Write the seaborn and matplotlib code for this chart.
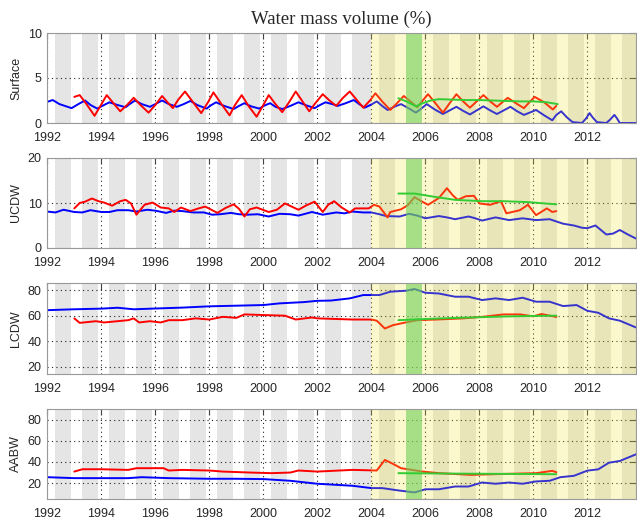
import numpy as np
import seaborn as sns
import matplotlib.pyplot as plt

sns.set_style('white')
plt.rcParams['font.family'] = ['Liberation Sans', 'DejaVu Sans']

# ---- data (year, percent) ----
surf_blue_t = [1992.0, 1992.2, 1992.45, 1992.9, 1993.15, 1993.4, 1993.6, 1993.85, 1994.1, 1994.3,
               1994.6, 1994.9, 1995.05, 1995.25, 1995.5, 1995.8, 1996.0, 1996.25, 1996.5, 1996.8,
               1997.05, 1997.3, 1997.55, 1997.9, 1998.05, 1998.25, 1998.55, 1998.9, 1999.1, 1999.3,
               1999.55, 1999.85, 2000.05, 2000.25, 2000.45, 2000.7, 2001.0, 2001.3, 2001.6, 2001.9,
               2002.1, 2002.3, 2002.55, 2002.75, 2003.05, 2003.35, 2003.55, 2003.75, 2004.0, 2004.2,
               2004.4, 2004.6, 2004.85, 2005.1, 2005.4, 2005.65, 2005.85, 2006.05, 2006.35, 2006.65,
               2006.9, 2007.15, 2007.4, 2007.65, 2007.9, 2008.15, 2008.4, 2008.65, 2008.9, 2009.15,
               2009.4, 2009.65, 2009.9, 2010.1, 2010.4, 2010.7, 2010.85, 2011.03, 2011.25, 2011.45,
               2011.8, 2011.95, 2012.08, 2012.2, 2012.35, 2012.7, 2012.85, 2013.0, 2013.1, 2013.2, 2013.8]
surf_blue_v = [2.35, 2.55, 2.1, 1.65, 2.1, 2.5, 2.0, 1.6, 2.0, 2.3,
               2.0, 1.75, 2.1, 2.5, 2.1, 1.8, 2.1, 2.5, 2.1, 1.8,
               2.1, 2.45, 2.0, 1.6, 1.95, 2.3, 1.9, 1.55, 1.9, 2.2,
               1.85, 1.6, 1.95, 2.2, 1.8, 1.55, 1.9, 2.3, 1.95, 1.65,
               2.0, 2.3, 2.1, 1.9, 2.2, 2.55, 2.1, 1.7, 2.05, 2.4,
               1.9, 1.45, 1.8, 2.1, 1.6, 1.15, 1.6, 2.1, 1.5, 1.0,
               1.4, 1.8, 1.35, 0.95, 1.4, 1.85, 1.4, 1.0, 1.4, 1.8,
               1.3, 0.9, 1.2, 1.45, 0.85, 0.3, 0.9, 1.3, 0.6, 0.1,
               0.0, 0.5, 1.1, 0.6, 0.1, 0.0, 0.4, 0.9, 0.5, 0.0, 0.0]
surf_red_t = [1993.0, 1993.2, 1993.45, 1993.75, 1993.95, 1994.2, 1994.45, 1994.7, 1994.95, 1995.2,
              1995.45, 1995.75, 1996.0, 1996.25, 1996.45, 1996.65, 1996.85, 1997.1, 1997.4, 1997.7,
              1997.95, 1998.15, 1998.45, 1998.75, 1998.95, 1999.2, 1999.45, 1999.75, 2000.0, 2000.2,
              2000.45, 2000.7, 2000.95, 2001.2, 2001.45, 2001.7, 2001.95, 2002.2, 2002.45, 2002.7,
              2002.95, 2003.2, 2003.45, 2003.7, 2003.95, 2004.15, 2004.4, 2004.7, 2004.95, 2005.2,
              2005.45, 2005.7, 2005.9, 2006.1, 2006.4, 2006.65, 2006.9, 2007.15, 2007.4, 2007.65,
              2007.9, 2008.15, 2008.4, 2008.65, 2008.85, 2009.05, 2009.35, 2009.65, 2009.85, 2010.05,
              2010.4, 2010.72, 2010.85]
surf_red_v = [2.9, 3.1, 2.1, 0.8, 1.8, 3.1, 2.2, 1.3, 2.0, 2.8,
              2.0, 1.15, 2.0, 3.0, 2.3, 1.65, 2.6, 3.5, 2.3, 1.1,
              2.3, 3.4, 2.1, 0.85, 2.0, 3.1, 1.9, 0.7, 2.0, 3.1,
              2.1, 1.2, 2.3, 3.5, 2.4, 1.3, 2.3, 3.2, 2.5, 1.9,
              2.8, 3.5, 2.6, 1.7, 2.5, 3.3, 2.4, 1.45, 2.2, 3.0,
              2.4, 1.75, 2.5, 3.2, 2.1, 1.15, 2.2, 3.2, 2.4, 1.7,
              2.4, 3.1, 2.4, 1.8, 2.3, 2.8, 2.2, 1.65, 2.3, 2.9,
              2.3, 1.5, 1.9]
surf_green_t = [2005.0, 2005.3, 2005.65, 2005.9, 2006.2, 2006.5, 2007.0, 2007.5, 2008.0, 2008.5,
                2009.0, 2009.5, 2010.0, 2010.5, 2010.9]
surf_green_v = [2.75, 2.4, 1.85, 2.2, 2.5, 2.65, 2.6, 2.55, 2.55, 2.5,
                2.45, 2.4, 2.4, 2.3, 2.1]

ucdw_blue_t = [1992.0, 1992.3, 1992.6, 1993.0, 1993.3, 1993.6, 1994.0, 1994.3, 1994.6, 1995.0,
               1995.3, 1995.7, 1996.0, 1996.4, 1996.7, 1997.0, 1997.4, 1997.8, 1998.1, 1998.4,
               1998.8, 1999.1, 1999.4, 1999.8, 2000.2, 2000.6, 2001.0, 2001.3, 2001.8, 2002.2,
               2002.7, 2003.0, 2003.3, 2003.7, 2004.0, 2004.3, 2004.55, 2005.05, 2005.4, 2005.7,
               2006.0, 2006.5, 2006.8, 2007.1, 2007.6, 2007.85, 2008.1, 2008.6, 2008.85, 2009.1,
               2009.6, 2009.85, 2010.1, 2010.6, 2010.85, 2011.1, 2011.5, 2011.8, 2012.0, 2012.3,
               2012.7, 2012.95, 2013.2, 2013.5, 2013.8]
ucdw_blue_v = [8.1, 7.9, 8.5, 8.0, 7.9, 8.4, 8.0, 8.0, 8.4, 8.4,
               8.1, 8.5, 8.3, 7.8, 8.3, 8.2, 7.9, 7.9, 7.4, 7.5,
               7.8, 7.5, 7.4, 7.5, 7.0, 7.6, 7.5, 7.2, 8.0, 7.4,
               7.9, 7.7, 8.1, 7.9, 7.9, 7.5, 7.1, 7.0, 7.6, 7.2,
               6.6, 7.1, 6.8, 6.4, 7.0, 6.6, 6.1, 6.8, 6.5, 6.2,
               6.6, 6.4, 6.2, 6.4, 5.9, 5.4, 5.0, 4.5, 4.4, 5.0,
               3.0, 3.2, 4.0, 3.0, 2.1]
ucdw_red_t = [1993.0, 1993.2, 1993.4, 1993.65, 1993.9, 1994.1, 1994.4, 1994.7, 1994.9, 1995.1,
              1995.3, 1995.6, 1995.9, 1996.2, 1996.5, 1996.7, 1996.95, 1997.3, 1997.6, 1997.85,
              1998.3, 1998.6, 1998.9, 1999.1, 1999.3, 1999.5, 1999.75, 2000.2, 2000.5, 2000.8,
              2001.3, 2001.6, 2001.9, 2002.2, 2002.4, 2002.62, 2002.9, 2003.2, 2003.4, 2003.9,
              2004.1, 2004.3, 2004.6, 2004.7, 2005.1, 2005.35, 2005.6, 2005.85, 2006.1, 2006.5,
              2006.8, 2007.0, 2007.2, 2007.5, 2007.8, 2008.0, 2008.4, 2008.8, 2009.0, 2009.5,
              2009.8, 2010.1, 2010.5, 2010.7, 2010.85]
ucdw_red_v = [8.8, 10.0, 10.3, 11.0, 10.4, 10.1, 9.4, 10.4, 10.7, 9.9,
              7.4, 9.6, 10.1, 9.0, 8.8, 8.0, 9.0, 8.2, 8.8, 9.2,
              7.8, 8.9, 9.7, 8.7, 7.0, 8.6, 9.0, 8.0, 8.5, 9.9,
              8.5, 9.5, 10.3, 8.0, 9.6, 10.4, 9.0, 7.9, 8.8, 8.8,
              9.6, 9.2, 6.8, 8.0, 8.6, 9.5, 11.3, 10.4, 9.6, 11.1,
              13.3, 11.8, 10.7, 11.5, 11.6, 9.9, 9.6, 10.4, 7.7, 8.4,
              9.6, 7.3, 8.8, 8.0, 8.2]
ucdw_green_t = [2005.0, 2005.6, 2006.2, 2007.1, 2008.1, 2008.9, 2009.8, 2010.85]
ucdw_green_v = [12.1, 12.1, 11.5, 10.7, 10.4, 10.4, 10.2, 9.7]

lcdw_blue_t = [1992.0, 1993.0, 1994.0, 1994.6, 1995.2, 1996.0, 1997.0, 1998.0, 1999.0, 2000.0,
               2000.6, 2001.5, 2002.0, 2002.5, 2003.2, 2003.7, 2004.3, 2004.7, 2005.3, 2005.6,
               2006.0, 2006.5, 2007.1, 2007.6, 2008.1, 2008.6, 2009.1, 2009.6, 2010.1, 2010.6,
               2011.1, 2011.6, 2012.0, 2012.4, 2012.8, 2013.2, 2013.8]
lcdw_blue_v = [64.3, 65.0, 65.5, 66.2, 65.0, 65.6, 66.3, 67.3, 67.8, 68.3,
               69.6, 70.6, 71.6, 71.8, 73.5, 76.1, 76.1, 78.7, 79.5, 80.8,
               77.9, 77.3, 74.8, 74.8, 72.2, 73.5, 72.2, 74.0, 70.9, 70.9,
               67.5, 68.3, 63.8, 62.3, 57.9, 56.1, 50.8]
lcdw_red_t = [1993.0, 1993.2, 1993.8, 1994.1, 1994.6, 1995.0, 1995.2, 1995.4, 1995.8, 1996.2,
              1996.5, 1997.0, 1997.5, 1998.0, 1998.5, 1999.0, 1999.3, 2000.0, 2000.8, 2001.2,
              2001.8, 2002.0, 2003.3, 2004.0, 2004.2, 2004.5, 2004.8, 2005.2, 2005.7, 2006.4,
              2007.4, 2008.1, 2008.9, 2009.5, 2010.0, 2010.3, 2010.85]
lcdw_red_v = [57.9, 54.4, 55.7, 54.7, 55.7, 56.5, 57.9, 54.7, 55.7, 54.7,
              56.5, 56.5, 57.9, 57.0, 59.1, 58.3, 61.0, 60.5, 60.0, 57.0,
              58.6, 57.9, 57.0, 57.0, 56.1, 50.0, 52.6, 54.4, 56.5, 57.0,
              57.9, 59.1, 61.0, 61.0, 59.5, 61.3, 59.0]
lcdw_green_t = [2005.0, 2006.0, 2007.0, 2008.0, 2009.0, 2010.0, 2010.85]
lcdw_green_v = [56.5, 57.4, 58.2, 58.8, 59.4, 59.8, 60.0]

aabw_blue_t = [1992.0, 1993.0, 1994.0, 1995.0, 1995.5, 1996.5, 1998.0, 1999.0, 2000.0, 2001.0,
               2002.0, 2003.3, 2004.0, 2004.4, 2005.0, 2005.6, 2006.0, 2006.5, 2007.1, 2007.6,
               2008.1, 2008.6, 2009.1, 2009.6, 2010.1, 2010.6, 2011.0, 2011.5, 2012.0, 2012.4,
               2012.8, 2013.2, 2013.8]
aabw_blue_v = [25.6, 24.7, 24.7, 24.7, 25.6, 24.7, 24.1, 24.1, 23.8, 22.2,
               19.4, 17.5, 15.3, 15.3, 13.1, 11.2, 14.2, 14.2, 16.8, 16.8,
               20.6, 19.4, 20.6, 19.4, 21.6, 22.2, 25.6, 26.9, 31.8, 33.0,
               39.3, 40.9, 47.2]
aabw_red_t = [1993.0, 1993.3, 1994.0, 1995.0, 1995.3, 1996.3, 1996.5, 1997.0, 1998.0, 1998.5,
              1999.5, 2000.3, 2001.0, 2001.3, 2002.0, 2003.3, 2004.2, 2004.5, 2004.8, 2005.1,
              2005.9, 2006.5, 2007.7, 2008.9, 2010.1, 2010.7, 2010.85]
aabw_red_v = [30.9, 33.1, 33.1, 32.5, 34.1, 34.1, 31.9, 32.5, 31.9, 30.9,
              30.0, 29.4, 30.0, 31.9, 30.9, 32.5, 31.9, 41.9, 38.2, 34.1,
              30.9, 29.4, 27.8, 28.7, 29.4, 31.6, 30.3]
aabw_green_t = [2005.0, 2007.0, 2009.0, 2010.85]
aabw_green_v = [29.4, 29.0, 28.7, 28.4]

panel_names = ['Surface', 'UCDW', 'LCDW', 'AABW']
panel_ylim = [(0, 10), (0, 20), (14.5, 85.5), (5, 90)]
panel_yticks = [[0, 5, 10], [0, 10, 20], [20, 40, 60, 80], [20, 40, 60, 80]]
xticks = list(range(1992, 2013, 2))

series = [
    [(surf_blue_t, surf_blue_v), (surf_red_t, surf_red_v), (surf_green_t, surf_green_v)],
    [(ucdw_blue_t, ucdw_blue_v), (ucdw_red_t, ucdw_red_v), (ucdw_green_t, ucdw_green_v)],
    [(lcdw_blue_t, lcdw_blue_v), (lcdw_red_t, lcdw_red_v), (lcdw_green_t, lcdw_green_v)],
    [(aabw_blue_t, aabw_blue_v), (aabw_red_t, aabw_red_v), (aabw_green_t, aabw_green_v)],
]

# pixel boxes (top, bottom) of the four panels
W, H = 637, 522
boxes = [(33, 123), (158, 248), (283, 374), (409, 499)]
x0, x1 = 47.3, 636

fig = plt.figure(figsize=(W / 100, H / 100), dpi=100)

for i, (top, bot) in enumerate(boxes):
    ax = fig.add_axes([x0 / W, 1 - bot / H, (x1 - x0) / W, (bot - top) / H])
    ax.set_xlim(1992, 2013.8)
    ax.set_ylim(*panel_ylim[i])

    # seasonal bands
    for yr in range(1992, 2014):
        if yr == 2005:
            continue
        end = 2004.0 if yr == 2003 else yr + 0.86
        ax.axvspan(yr + 0.3, end, color='#e5e5e5', lw=0, zorder=0.1)

    (bt, bv), (rt, rv), (gt, gv) = series[i]
    sns.lineplot(x=bt, y=bv, ax=ax, color='#0000ff', lw=1.4, estimator=None, sort=False, zorder=2)
    sns.lineplot(x=rt, y=rv, ax=ax, color='#ff0000', lw=1.4, estimator=None, sort=False, zorder=2)

    # yellow wash over the later period, green band for 2005
    ax.axvspan(2004, 2014, color=(242 / 255, 229 / 255, 42 / 255), alpha=0.23, lw=0, zorder=2.2)
    ax.axvspan(2005.3, 2005.86, color=(112 / 255, 207 / 255, 89 / 255), alpha=0.6, lw=0, zorder=2.3)

    sns.lineplot(x=gt, y=gv, ax=ax, color='#33cc33', lw=1.4, estimator=None, sort=False, zorder=2.4)

    ax.set_axisbelow(True)
    ax.grid(True, color='#222222', ls=(0, (1, 3)), lw=0.8)
    ax.set_xticks(xticks)
    ax.set_yticks(panel_yticks[i])
    ax.tick_params(direction='in', top=True, right=True, length=4, width=0.8,
                   color='#444444', labelsize=9)
    ax.tick_params(axis='x', pad=6.5)
    ax.tick_params(axis='y', pad=4)
    for s in ax.spines.values():
        s.set_color('#999999')
        s.set_linewidth(0.8)
    ax.set_xlabel('')
    ax.set_ylabel(panel_names[i], fontsize=9, labelpad=4)

    if i == 0:
        ax.set_title('Water mass volume (%)', family=['Liberation Serif'], fontsize=13.5, pad=6.5)

plt.savefig('out.png', dpi=100)
